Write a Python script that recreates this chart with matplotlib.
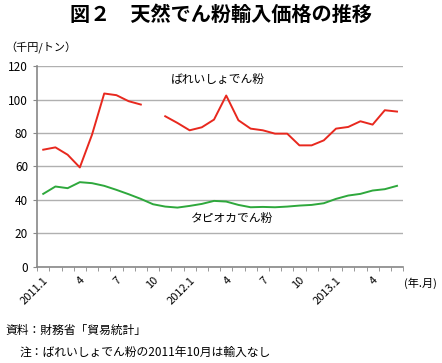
import numpy as np
import matplotlib
matplotlib.use('Agg')
import matplotlib.pyplot as plt

plt.rcParams['font.family'] = ['Noto Sans CJK JP', 'DejaVu Sans']

# データ (2011.1 ～ 2013.6, 千円/トン)
tick_labels = ['2011.1', '4', '7', '10', '2012.1', '4', '7', '10', '2013.1', '4']
bareisho = [70, 71.4, 67, 59.4, 79, 103.6, 102.6, 99, 97, np.nan,
            90, 86, 81.6, 83.4, 88, 102.4, 87.6, 82.6, 81.6, 79.6,
            79.6, 72.6, 72.6, 75.6, 82.6, 83.6, 87, 85, 93.6, 92.8]
tapioca = [43.6, 48, 47, 50.6, 50, 48.4, 46, 43.4, 40.6, 37.4,
           36, 35.4, 36.4, 37.6, 39.4, 39, 37, 35.6, 35.8, 35.6,
           36, 36.6, 37, 38, 40.6, 42.6, 43.6, 45.6, 46.4, 48.4]

n = len(bareisho)
x = np.arange(n)

fig = plt.figure(figsize=(4.42, 3.63), dpi=100)
ax = fig.add_axes([0.084, 0.265, 0.828, 0.553])

ax.plot(x, bareisho, color='#e8281e', lw=1.4)
ax.plot(x, tapioca, color='#2ea83c', lw=1.4)

ax.set_xlim(-0.5, n - 0.5)
ax.set_ylim(0, 120)
ax.set_yticks(np.arange(0, 121, 20))
ax.yaxis.grid(True, color='#b0b0b0', lw=1)
ax.set_axisbelow(True)

ax.set_xticks(np.arange(0, n, 3))
ax.set_xticklabels(tick_labels, rotation=45, ha='right', rotation_mode='anchor', fontsize=8)
ax.set_xticks(np.arange(-0.5, n, 1), minor=True)
ax.tick_params(axis='x', which='major', length=0, pad=6)
ax.tick_params(axis='x', which='minor', length=3, color='#888888')
ax.tick_params(axis='y', length=3, color='#888888', labelsize=8.5)

for s in ['top', 'right']:
    ax.spines[s].set_visible(False)
for s in ['left', 'bottom']:
    ax.spines[s].set_color('#888888')
    ax.spines[s].set_linewidth(1.2)

ax.text(10.5, 112, 'ばれいしょでん粉', fontsize=8.5, ha='left', va='center')
ax.text(12.1, 29, 'タピオカでん粉', fontsize=8.5, ha='left', va='center')

fig.text(0.5, 0.96, '図２　天然でん粉輸入価格の推移', fontsize=14.5, fontweight='bold',
         ha='center', va='center')
fig.text(0.012, 0.868, '（千円/トン）', fontsize=8, ha='left', va='center')
fig.text(0.913, 0.22, '(年.月)', fontsize=8, ha='left', va='center')
fig.text(0.012, 0.09, '資料：財務省「貿易統計」', fontsize=8.5, ha='left', va='center')
fig.text(0.045, 0.03, '注：ばれいしょでん粉の2011年10月は輸入なし', fontsize=8.5,
         ha='left', va='center')

fig.savefig('out.png', dpi=100)
